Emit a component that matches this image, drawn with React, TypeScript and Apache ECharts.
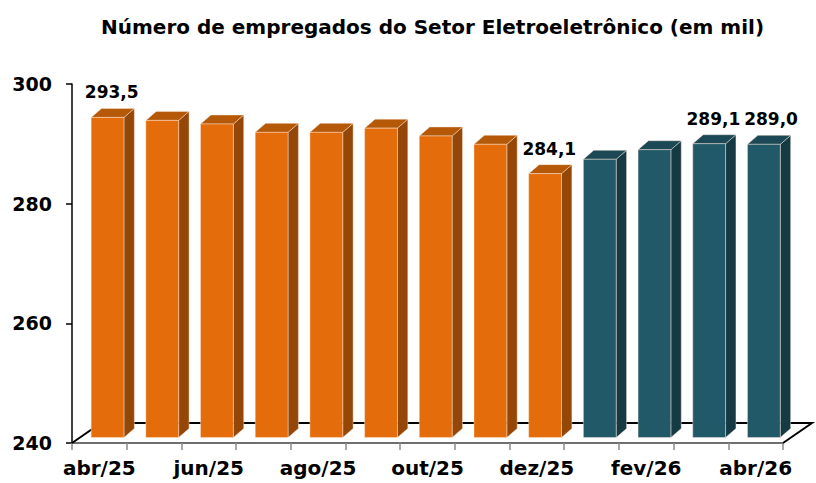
import React, { useEffect, useRef } from "react";
import * as echarts from "echarts";

const categories = [
  "abr/25", "mai/25", "jun/25", "jul/25", "ago/25", "set/25", "out/25",
  "nov/25", "dez/25", "jan/26", "fev/26", "mar/26", "abr/26",
];
const values = [293.5, 293.0, 292.4, 291.0, 291.0, 291.7, 290.4, 289.0, 284.1, 286.5, 288.1, 289.1, 289.0];
const labeledIndices = [0, 8, 11, 12];
const secondGroupStart = 9;
const yTicks = [240, 260, 280, 300];

const FONT = "'DejaVu Sans', 'Liberation Sans', Arial, sans-serif";

const orange = { front: "#E46C0A", side: "#944706", top: "#B55808" };
const teal = { front: "#215968", side: "#163A44", top: "#1C4955" };

export default function App() {
  const ref = useRef<HTMLDivElement>(null);
  useEffect(() => {
    if (!ref.current) return;
    const chart = echarts.init(ref.current, null, { renderer: "svg" });
    const option: any = {
      animation: false,
      backgroundColor: "#ffffff",
      title: {
        text: "Número de empregados do Setor Eletroeletrônico (em mil)",
        left: 96,
        top: 12,
        textStyle: { fontFamily: FONT, fontSize: 20, fontWeight: "bold", color: "#000" },
      },
      grid: { left: 72, right: 33, top: 84, bottom: 40, containLabel: false },
      xAxis: {
        type: "category",
        data: categories,
        boundaryGap: true,
        axisLine: { show: true, lineStyle: { color: "#404040", width: 1.5 } },
        axisTick: { show: true, interval: 0, length: 7, lineStyle: { color: "#8a8a8a", width: 1.5 } },
        axisLabel: {
          interval: 1,
          margin: 15,
          fontFamily: FONT,
          fontSize: 20,
          fontWeight: "bold",
          color: "#000",
        },
        splitLine: { show: false },
      },
      yAxis: {
        type: "value",
        min: yTicks[0],
        max: yTicks[yTicks.length - 1],
        interval: 20,
        axisLine: { show: true, lineStyle: { color: "#000", width: 1.5 } },
        axisTick: { show: true, length: 6, lineStyle: { color: "#000", width: 1.5 } },
        axisLabel: {
          margin: 20,
          fontFamily: FONT,
          fontSize: 19,
          fontWeight: "bold",
          color: "#000",
        },
        splitLine: { show: false },
      },
      series: [
        {
          type: "custom",
          name: "floor",
          z: 1,
          silent: true,
          data: [[0, yTicks[0]]],
          renderItem: (params: any) => {
            const cs = params.coordSys;
            const x0 = cs.x;
            const x1 = cs.x + cs.width;
            const yb = cs.y + cs.height;
            const ddx = 29;
            const ddy = -20;
            return {
              type: "group",
              children: [
                {
                  type: "polyline",
                  shape: {
                    points: [
                      [x0, yb],
                      [x0 + ddx, yb + ddy],
                      [x1 + ddx, yb + ddy],
                      [x1, yb],
                    ],
                  },
                  style: { stroke: "#000", lineWidth: 2, fill: null },
                },
              ],
            };
          },
        },
        {
          type: "custom",
          name: "empregados",
          z: 3,
          data: values.map((v, i) => [i, v]),
          encode: { x: 0, y: 1 },
          renderItem: (params: any, api: any) => {
            const idx = api.value(0);
            const v = api.value(1);
            const c = api.coord([idx, v]);
            const base = api.coord([idx, yTicks[0]]);
            const bw = api.size([1, 0])[0];
            const shiftY = -5.5;
            const left = c[0] - bw / 2 + bw * 0.35;
            const w = bw * 0.6;
            const dx = bw * 0.19;
            const dy = -9;
            const top = c[1] + shiftY;
            const bottom = base[1] + shiftY;
            const col = idx >= secondGroupStart ? teal : orange;
            const edge = "rgba(255,235,220,0.55)";
            const children: any[] = [
              {
                type: "polygon",
                shape: {
                  points: [
                    [left + w, top],
                    [left + w + dx, top + dy],
                    [left + w + dx, bottom + dy],
                    [left + w, bottom],
                  ],
                },
                style: { fill: col.side, stroke: edge, lineWidth: 0.8 },
              },
              {
                type: "polygon",
                shape: {
                  points: [
                    [left, top],
                    [left + dx, top + dy],
                    [left + w + dx, top + dy],
                    [left + w, top],
                  ],
                },
                style: { fill: col.top, stroke: edge, lineWidth: 0.8 },
              },
              {
                type: "rect",
                shape: { x: left, y: top, width: w, height: bottom - top },
                style: { fill: col.front, stroke: edge, lineWidth: 0.8 },
              },
            ];
            if (labeledIndices.indexOf(idx) >= 0) {
              const isLast = idx === values.length - 1;
              children.push({
                type: "text",
                x: left + (w + dx) / 2 + (isLast ? 2 : -1),
                y: top + dy - 16,
                style: {
                  text: v.toFixed(1).replace(".", ","),
                  fontFamily: FONT,
                  fontSize: 17,
                  fontWeight: "bold",
                  fill: "#000",
                  align: "center",
                  verticalAlign: "middle",
                },
              });
            }
            return { type: "group", children };
          },
        },
      ],
    };
    chart.setOption(option);
    return () => chart.dispose();
  }, []);
  return (
    <div
      ref={ref}
      style={{ position: "absolute", left: 0, top: 0, width: 816, height: 483 }}
    />
  );
}
